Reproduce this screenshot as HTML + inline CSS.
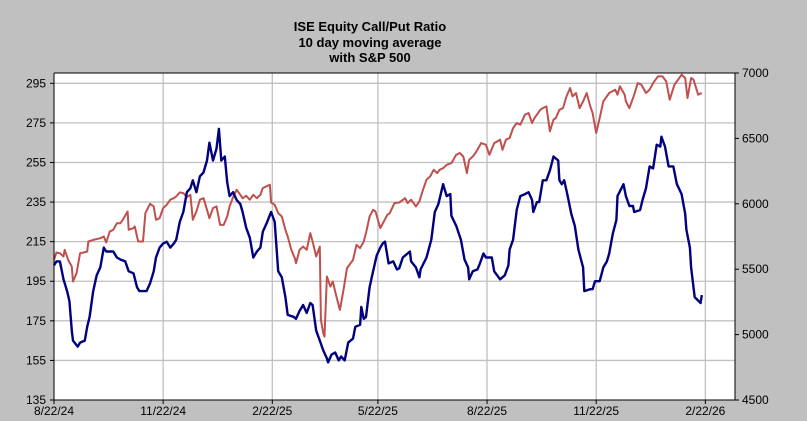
<!DOCTYPE html>
<html><head><meta charset="utf-8"><style>
html,body{margin:0;padding:0;background:#c0c0c0;}
svg{display:block;font-family:"Liberation Sans",Arial,sans-serif;}
</style></head><body>
<svg id="chart" width="807" height="421" viewBox="0 0 807 421">
<rect x="0" y="0" width="807" height="421" fill="#c0c0c0"/>
<g font-weight="bold" font-size="13" text-anchor="middle" fill="#000">
<text x="370" y="31">ISE Equity Call/Put Ratio</text>
<text x="370" y="47">10 day moving average</text>
<text x="370" y="62">with S&amp;P 500</text>
</g>
<rect x="54" y="73" width="681" height="327" fill="#fff"/>
<g id="grid"></g>
<g id="series"></g>
<g id="axes"></g>
</svg>
<script>
const xTickLabels=["8/22/24","11/22/24","2/22/25","5/22/25","8/22/25","11/22/25","2/22/26"];
const xTickDays=[0,92,184,273,365,457,549];
const leftTicks=[135,155,175,195,215,235,255,275,295];
const rightTicks=[4500,5000,5500,6000,6500,7000];
const cpDays=[0,2,5,8,11,13,15,16,20,22,26,28,30,33,36,39,42,44,47,50,53,56,60,63,67,70,72,75,78,81,84,86,89,92,95,98,101,103,106,109,112,115,117,120,123,126,129,131,134,137,139,141,144,146,148,151,154,157,159,162,165,168,171,174,176,179,183,186,189,192,195,197,202,204,207,210,213,216,218,221,224,227,230,231,234,237,240,242,245,248,252,254,258,259,261,263,266,269,272,275,277,279,282,286,289,
291,294,300,301,305,308,309,314,318,321,324,328,331,334,335,339,343,346,349,350,353,357,359,362,364,369,371,376,380,383,384,387,390,393,397,400,403,404,407,409,412,415,418,421,425,426,428,430,433,436,439,442,446,447,452,454,456,460,463,466,468,471,474,475,480,482,485,488,489,494,496,499,502,505,508,511,512,515,518,522,525,529,532,533,536,537,540,545,546];
const cpValues=[203,205,205,196,190,185,170,165,162,164,165,172,177,190,198,202,212,210,210,210,207,206,205,200,199,192,190,190,190,194,200,207,212,214,215,212,214,216,225,230,240,242,246,240,248,250,256,265,256,262,272,256,258,245,238,240,236,234,230,222,217,207,210,212,220,224,230,225,200,197,187,178,177,176,180,183,179,184,183,170,165,160,156,154,158,159,155,157,155,164,166,172,173,182,176,177,192,200,208,212,214,215,204,205,201,
201.5,207,210,205,202,197,201,207,216,230,234,244,238,239,228,223,216,206,202,196,200,201,204,209,207,207,200,196,198,203,211,216,231,238,239,240,236,230,235,235,246,246,251,258,256,246,244,246,238,229,223,211,202,190,191,191,195,195,202,205,209,219,226,238,244,238,233,233,230,231,236,242,253,252,264,263,268,263,253,253,244,239,229,221,212,202,187,184,188];
const spxDays=[0,2,5,8,9,12,15,16,19,22,25,28,29,33,39,42,44,47,50,53,56,58,62,63,67,68,71,75,77,81,84,86,89,92,95,98,101,103,106,109,112,115,117,120,123,126,129,131,134,137,140,143,146,148,151,154,157,159,162,165,168,171,174,176,179,182,183,186,189,192,195,197,200,203,204,207,210,213,216,218,221,224,225,227,228,230,233,235,238,241,244,247,249,252,255,258,261,263,266,269,271,275,278,281,283,287,
291,296,298,301,305,308,311,314,317,320,323,325,328,331,335,339,342,345,348,350,353,356,360,364,367,371,376,378,381,384,387,390,393,397,400,403,405,410,412,415,418,421,423,426,429,432,435,437,440,443,446,449,452,454,457,460,463,468,473,475,477,481,482,485,489,492,495,499,502,505,509,513,516,519,523,526,529,532,534,537,539,543,546];
const spxValues=[5571,5628,5622,5597,5648,5571,5520,5406,5469,5622,5628,5635,5712,5724,5737,5750,5704,5788,5801,5852,5852,5878,5941,5801,5814,5827,5712,5712,5929,6000,5980,5878,5890,5967,5992,6031,6043,6056,6087,6082,6051,6069,5878,5941,6031,6043,5954,5890,5967,5980,5839,5839,5903,5980,6051,6107,6069,6043,6061,6031,6069,6043,6069,6120,6133,6145,6010,5992,5929,5903,5801,5750,5648,5584,5546,5648,5673,5648,5776,5712,5597,5673,5112,5010,4985,5444,5367,5406,5291,5189,5342,5508,5533,5571,5686,5661,5712,5776,5903,5954,5941,5814,5865,5916,5929,6005,6010,
6043,6005,6031,5980,6018,6107,6184,6209,6260,6235,6260,6273,6298,6311,6375,6388,6362,6235,6337,6362,6400,6464,6452,6375,6464,6490,6413,6490,6503,6579,6617,6605,6681,6694,6617,6656,6719,6732,6745,6554,6643,6656,6719,6732,6821,6885,6821,6847,6732,6783,6847,6745,6694,6541,6656,6783,6847,6872,6834,6898,6834,6783,6732,6834,6923,6911,6847,6872,6923,6974,6974,6936,6796,6911,6949,6987,6962,6809,6962,6949,6834,6847,6878];

const L=54,R=735,T=73,B=400;
const NS="http://www.w3.org/2000/svg";
function x(d){return L+d*(R-L)/574;}
function yL(v){return B-(v-135)*(B-83.3)/160;}
function yR(v){return B-(v-4500)*(B-T)/2500;}
function mk(tag,attrs,parent){const e=document.createElementNS(NS,tag);for(const k in attrs)e.setAttribute(k,attrs[k]);parent.appendChild(e);return e;}
const grid=document.getElementById('grid'),axes=document.getElementById('axes'),series=document.getElementById('series');
leftTicks.forEach(v=>{
  const y=yL(v);
  if(v>135){const g=mk('line',{x1:L,x2:R,y1:y,y2:y,stroke:'#c0c0c0','stroke-width':1.3},grid);
  
  }
  mk('line',{x1:L-4,x2:L,y1:y,y2:y,stroke:'#000'},axes);
  const t=mk('text',{x:L-8,y:y+4,'font-size':12,'text-anchor':'end',fill:'#000'},axes);t.textContent=v;
  
  
});
rightTicks.forEach(v=>{
  const y=yR(v);
  mk('line',{x1:R,x2:R+4,y1:y,y2:y,stroke:'#000'},axes);
  const t=mk('text',{x:R+7,y:y+4,'font-size':12,fill:'#000'},axes);t.textContent=v;
  
  
});
xTickDays.forEach((d,i)=>{
  const xx=x(d);
  if(d>0){const g=mk('line',{x1:xx,x2:xx,y1:T,y2:B,stroke:'#c0c0c0','stroke-width':1.3},grid);
  
  }
  mk('line',{x1:xx,x2:xx,y1:B,y2:B+4,stroke:'#000'},axes);
  const t=mk('text',{x:xx,y:B+15,'font-size':12,'text-anchor':'middle',fill:'#000'},axes);t.textContent=xTickLabels[i];
  
  
});
mk('line',{x1:L,x2:L,y1:T,y2:B,stroke:'#000'},axes);
mk('line',{x1:R,x2:R,y1:T,y2:B,stroke:'#000'},axes);
mk('line',{x1:L,x2:R,y1:B,y2:B,stroke:'#000'},axes);
mk('line',{x1:L,x2:R,y1:T,y2:T,stroke:'#000'},axes);
const sp=mk('polyline',{points:spxDays.map((d,i)=>x(d).toFixed(1)+','+yR(spxValues[i]).toFixed(1)).join(' '),fill:'none',stroke:'#c0504d','stroke-width':2,'stroke-linejoin':'round'},series);


const cp=mk('polyline',{points:cpDays.map((d,i)=>x(d).toFixed(1)+','+yL(cpValues[i]).toFixed(1)).join(' '),fill:'none',stroke:'#000080','stroke-width':2.4,'stroke-linejoin':'round'},series);


</script>
</body></html>
